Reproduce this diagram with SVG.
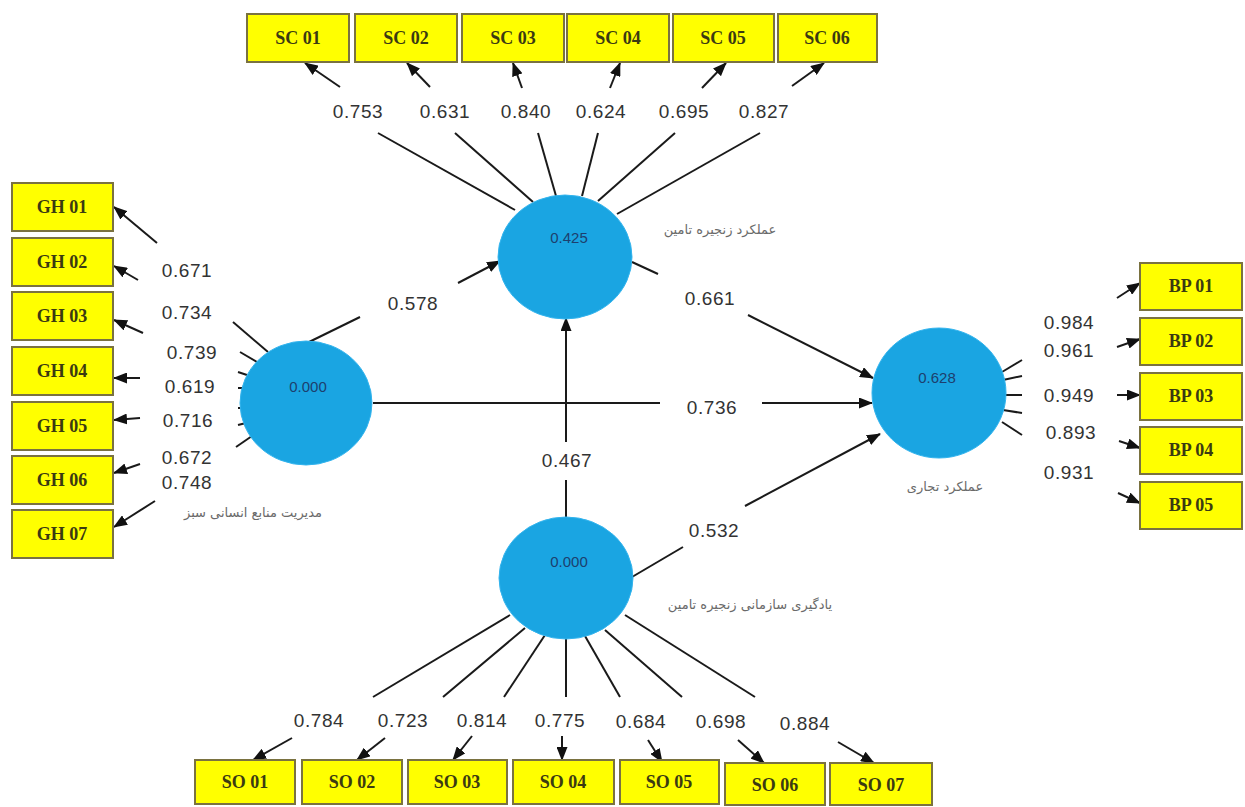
<svg xmlns="http://www.w3.org/2000/svg" width="1245" height="807" viewBox="0 0 1245 807">
<defs>
<marker id="ah" markerUnits="userSpaceOnUse" markerWidth="14" markerHeight="11" refX="13" refY="5.5" orient="auto">
<path d="M0,0 L14,5.5 L0,11 z" fill="#111"/>
</marker>
<style>
.box{fill:#ffff00;stroke:#7a7240;stroke-width:2}
.bt{font-family:"Liberation Serif",serif;font-size:18px;font-weight:bold;fill:#3b3a12;text-anchor:middle}
.lv{fill:#1aa5e2;stroke:#33b4ee;stroke-width:1}
.lt{font-family:"Liberation Sans",sans-serif;font-size:15px;fill:#1d3f6e;text-anchor:middle}
.pt{font-family:"DejaVu Sans",sans-serif;font-size:13px;fill:#6a6a6a;text-anchor:middle}
.num{font-family:"Liberation Sans",sans-serif;font-size:19px;fill:#333;text-anchor:middle;letter-spacing:0.6px}
.ln{stroke:#1a1a1a;stroke-width:2;fill:none}
.ar{stroke:#1a1a1a;stroke-width:2;fill:none;marker-end:url(#ah)}
</style>
</defs>
<rect width="1245" height="807" fill="#ffffff"/>

<g id="connectors">
<line class="ln" x1="307" y1="343" x2="360" y2="317"/>
<line class="ar" x1="458" y1="283" x2="500" y2="261"/>
<line class="ln" x1="373" y1="403" x2="660" y2="403"/>
<line class="ar" x1="762" y1="403" x2="872" y2="403"/>
<line class="ln" x1="632" y1="262" x2="658" y2="274"/>
<line class="ar" x1="748" y1="315" x2="873" y2="378"/>
<line class="ln" x1="566" y1="517" x2="566" y2="480"/>
<line class="ar" x1="566" y1="442" x2="566" y2="318"/>
<line class="ln" x1="632" y1="577" x2="683" y2="547"/>
<line class="ar" x1="745" y1="506" x2="880" y2="434"/>
<line class="ln" x1="515" y1="210" x2="378" y2="133"/>
<line class="ln" x1="533" y1="202" x2="455" y2="133"/>
<line class="ln" x1="556" y1="196" x2="538" y2="133"/>
<line class="ln" x1="582" y1="196" x2="598" y2="133"/>
<line class="ln" x1="598" y1="201" x2="675" y2="133"/>
<line class="ln" x1="617" y1="214" x2="760" y2="133"/>
<line class="ar" x1="340" y1="87" x2="305" y2="63"/>
<line class="ar" x1="430" y1="87" x2="407" y2="63"/>
<line class="ar" x1="522" y1="88" x2="513" y2="63"/>
<line class="ar" x1="610" y1="88" x2="620" y2="63"/>
<line class="ar" x1="702" y1="88" x2="726" y2="63"/>
<line class="ar" x1="792" y1="86" x2="824" y2="63"/>
<line class="ln" x1="233" y1="322" x2="268" y2="352"/>
<line class="ln" x1="240" y1="352" x2="257" y2="362"/>
<line class="ln" x1="238" y1="372" x2="247" y2="375"/>
<line class="ln" x1="238" y1="388" x2="244" y2="388"/>
<line class="ln" x1="238" y1="408" x2="244" y2="408"/>
<line class="ln" x1="238" y1="425" x2="246" y2="423"/>
<line class="ln" x1="236" y1="447" x2="252" y2="436"/>
<line class="ar" x1="157" y1="243" x2="114" y2="207"/>
<line class="ar" x1="138" y1="280" x2="114" y2="266"/>
<line class="ar" x1="143" y1="333" x2="114" y2="320"/>
<line class="ar" x1="140" y1="378" x2="114" y2="378"/>
<line class="ar" x1="140" y1="418" x2="114" y2="420"/>
<line class="ar" x1="140" y1="464" x2="114" y2="473"/>
<line class="ar" x1="155" y1="501" x2="114" y2="527"/>
<line class="ln" x1="1002" y1="372" x2="1022" y2="360"/>
<line class="ln" x1="1003" y1="380" x2="1022" y2="376"/>
<line class="ln" x1="1005" y1="395" x2="1022" y2="395"/>
<line class="ln" x1="1003" y1="410" x2="1022" y2="413"/>
<line class="ln" x1="1002" y1="422" x2="1022" y2="435"/>
<line class="ar" x1="1117" y1="298" x2="1140" y2="283"/>
<line class="ar" x1="1117" y1="347" x2="1140" y2="339"/>
<line class="ar" x1="1117" y1="395" x2="1140" y2="395"/>
<line class="ar" x1="1119" y1="441" x2="1140" y2="448"/>
<line class="ar" x1="1118" y1="493" x2="1140" y2="503"/>
<line class="ln" x1="510" y1="615" x2="373" y2="697"/>
<line class="ln" x1="525" y1="628" x2="443" y2="697"/>
<line class="ln" x1="545" y1="635" x2="504" y2="697"/>
<line class="ln" x1="566" y1="638" x2="566" y2="697"/>
<line class="ln" x1="585" y1="636" x2="620" y2="697"/>
<line class="ln" x1="605" y1="630" x2="682" y2="697"/>
<line class="ln" x1="625" y1="615" x2="755" y2="697"/>
<line class="ar" x1="292" y1="738" x2="253" y2="760"/>
<line class="ar" x1="385" y1="738" x2="357" y2="760"/>
<line class="ar" x1="472" y1="736" x2="453" y2="760"/>
<line class="ar" x1="562" y1="736" x2="562" y2="760"/>
<line class="ar" x1="648" y1="740" x2="662" y2="762"/>
<line class="ar" x1="738" y1="740" x2="764" y2="763"/>
<line class="ar" x1="838" y1="742" x2="874" y2="763"/>
</g>

<g id="loadings">
<text class="num" x="413" y="310">0.578</text>
<text class="num" x="712" y="414">0.736</text>
<text class="num" x="710" y="305">0.661</text>
<text class="num" x="567" y="467">0.467</text>
<text class="num" x="714" y="537">0.532</text>
<text class="num" x="358" y="118">0.753</text>
<text class="num" x="445" y="118">0.631</text>
<text class="num" x="526" y="118">0.840</text>
<text class="num" x="601" y="118">0.624</text>
<text class="num" x="684" y="118">0.695</text>
<text class="num" x="764" y="118">0.827</text>
<text class="num" x="187" y="277">0.671</text>
<text class="num" x="187" y="319">0.734</text>
<text class="num" x="192" y="359">0.739</text>
<text class="num" x="190" y="393">0.619</text>
<text class="num" x="188" y="427">0.716</text>
<text class="num" x="187" y="464">0.672</text>
<text class="num" x="187" y="489">0.748</text>
<text class="num" x="1069" y="329">0.984</text>
<text class="num" x="1069" y="357">0.961</text>
<text class="num" x="1069" y="402">0.949</text>
<text class="num" x="1071" y="439">0.893</text>
<text class="num" x="1069" y="479">0.931</text>
<text class="num" x="319" y="727">0.784</text>
<text class="num" x="403" y="727">0.723</text>
<text class="num" x="482" y="727">0.814</text>
<text class="num" x="560" y="727">0.775</text>
<text class="num" x="641" y="728">0.684</text>
<text class="num" x="721" y="728">0.698</text>
<text class="num" x="805" y="730">0.884</text>
</g>

<g id="SC"><ellipse class="lv" cx="565" cy="257" rx="67" ry="62"/><text class="lt" x="569" y="243">0.425</text><text class="pt" x="720" y="234">عملکرد زنجیره تامین</text></g>
<g id="GH"><ellipse class="lv" cx="306" cy="403" rx="66" ry="62"/><text class="lt" x="308" y="392">0.000</text><text class="pt" x="253" y="517">مدیریت منابع انسانی سبز</text></g>
<g id="BP"><ellipse class="lv" cx="939" cy="393" rx="67" ry="65"/><text class="lt" x="937" y="383">0.628</text><text class="pt" x="945" y="491">عملکرد تجاری</text></g>
<g id="SO"><ellipse class="lv" cx="566" cy="578" rx="67" ry="61"/><text class="lt" x="569" y="567">0.000</text><text class="pt" x="750" y="609">یادگیری سازمانی زنجیره تامین</text></g>

<g id="SC01"><rect class="box" x="247" y="14" width="102" height="48"/><text class="bt" x="298" y="44">SC 01</text></g>
<g id="SC02"><rect class="box" x="355" y="14" width="102" height="48"/><text class="bt" x="406" y="44">SC 02</text></g>
<g id="SC03"><rect class="box" x="462" y="14" width="102" height="48"/><text class="bt" x="513" y="44">SC 03</text></g>
<g id="SC04"><rect class="box" x="567" y="14" width="102" height="48"/><text class="bt" x="618" y="44">SC 04</text></g>
<g id="SC05"><rect class="box" x="673" y="14" width="101" height="48"/><text class="bt" x="723" y="44">SC 05</text></g>
<g id="SC06"><rect class="box" x="778" y="14" width="99" height="48"/><text class="bt" x="827" y="44">SC 06</text></g>

<g id="GH01"><rect class="box" x="12" y="183" width="101" height="48"/><text class="bt" x="62" y="213">GH 01</text></g>
<g id="GH02"><rect class="box" x="12" y="238" width="101" height="48"/><text class="bt" x="62" y="268">GH 02</text></g>
<g id="GH03"><rect class="box" x="12" y="292" width="101" height="48"/><text class="bt" x="62" y="322">GH 03</text></g>
<g id="GH04"><rect class="box" x="12" y="347" width="101" height="48"/><text class="bt" x="62" y="377">GH 04</text></g>
<g id="GH05"><rect class="box" x="12" y="402" width="101" height="48"/><text class="bt" x="62" y="432">GH 05</text></g>
<g id="GH06"><rect class="box" x="12" y="456" width="101" height="48"/><text class="bt" x="62" y="486">GH 06</text></g>
<g id="GH07"><rect class="box" x="12" y="510" width="101" height="48"/><text class="bt" x="62" y="540">GH 07</text></g>

<g id="BP01"><rect class="box" x="1140" y="263" width="102" height="47"/><text class="bt" x="1191" y="292">BP 01</text></g>
<g id="BP02"><rect class="box" x="1140" y="318" width="102" height="47"/><text class="bt" x="1191" y="347">BP 02</text></g>
<g id="BP03"><rect class="box" x="1140" y="373" width="102" height="47"/><text class="bt" x="1191" y="402">BP 03</text></g>
<g id="BP04"><rect class="box" x="1140" y="427" width="102" height="47"/><text class="bt" x="1191" y="456">BP 04</text></g>
<g id="BP05"><rect class="box" x="1140" y="482" width="102" height="47"/><text class="bt" x="1191" y="511">BP 05</text></g>

<g id="SO01"><rect class="box" x="195" y="760" width="100" height="44"/><text class="bt" x="245" y="788">SO 01</text></g>
<g id="SO02"><rect class="box" x="302" y="760" width="100" height="44"/><text class="bt" x="352" y="788">SO 02</text></g>
<g id="SO03"><rect class="box" x="408" y="760" width="99" height="44"/><text class="bt" x="457" y="788">SO 03</text></g>
<g id="SO04"><rect class="box" x="513" y="760" width="101" height="44"/><text class="bt" x="563" y="788">SO 04</text></g>
<g id="SO05"><rect class="box" x="620" y="760" width="99" height="44"/><text class="bt" x="669" y="788">SO 05</text></g>
<g id="SO06"><rect class="box" x="725" y="763" width="100" height="42"/><text class="bt" x="775" y="791">SO 06</text></g>
<g id="SO07"><rect class="box" x="830" y="763" width="102" height="42"/><text class="bt" x="881" y="791">SO 07</text></g>
</svg>
